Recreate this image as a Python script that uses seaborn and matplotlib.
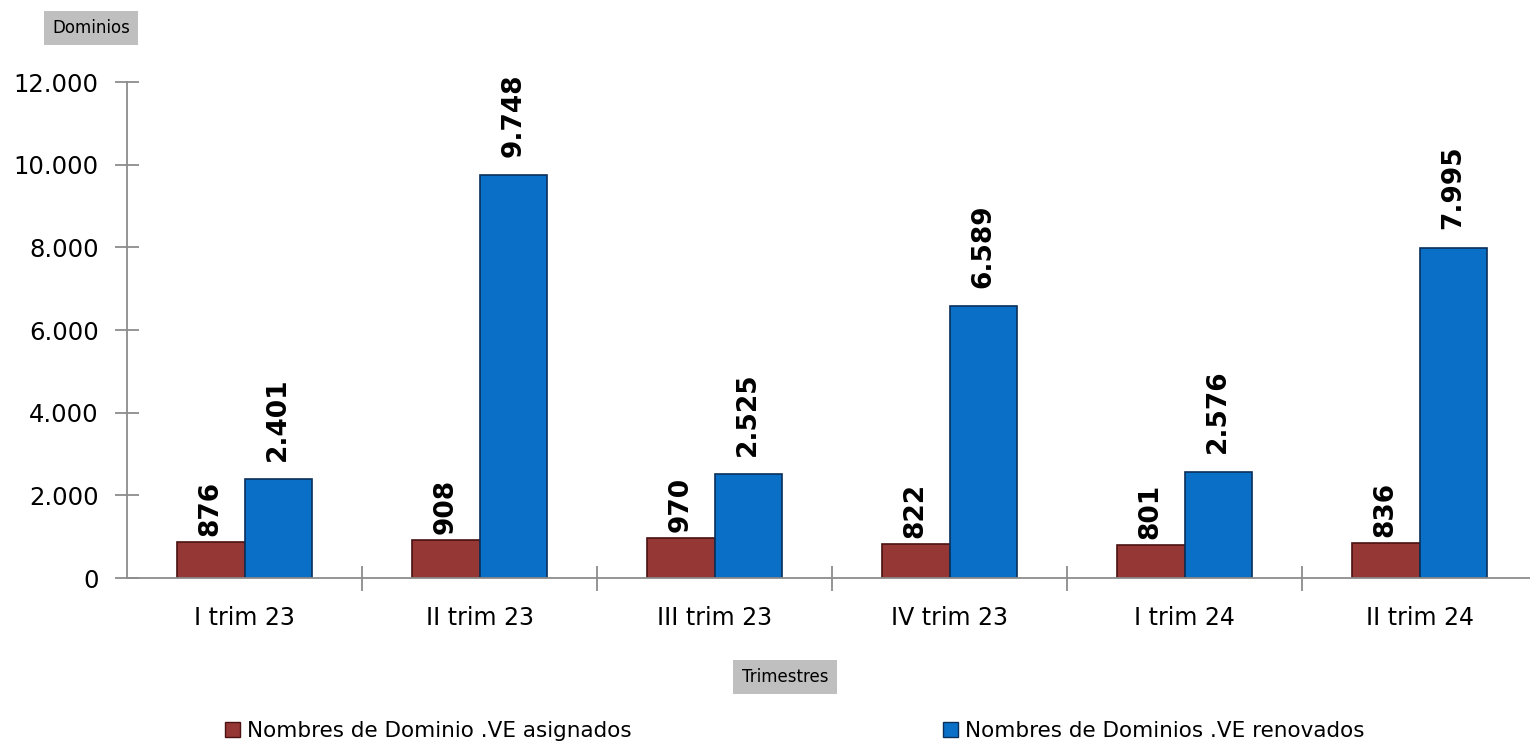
import pandas as pd
import seaborn as sns
import matplotlib.pyplot as plt
from matplotlib.patches import Patch
from matplotlib.ticker import FuncFormatter, FixedLocator

trimestres = ['I trim 23', 'II trim 23', 'III trim 23', 'IV trim 23', 'I trim 24', 'II trim 24']
asignados = [876, 908, 970, 822, 801, 836]
renovados = [2401, 9748, 2525, 6589, 2576, 7995]
series = ['Nombres de Dominio .VE asignados', 'Nombres de Dominios .VE renovados']
colores = ['#953735', '#0A6FC6']
bordes = ['#4a1212', '#0a2f5a']

df = pd.DataFrame({
    'Trimestre': trimestres * 2,
    'Dominios': asignados + renovados,
    'Serie': [series[0]] * 6 + [series[1]] * 6,
})


def miles(v, pos=None):
    return f"{int(v):,}".replace(",", ".")


sns.set_style('white')
plt.rcParams['font.family'] = ['DejaVu Sans']
plt.rcParams['text.color'] = 'black'
plt.rcParams['xtick.labelcolor'] = 'black'
plt.rcParams['ytick.labelcolor'] = 'black'

fig = plt.figure(figsize=(15.3, 7.44), dpi=100)
ax = fig.add_axes([127 / 1530, 166 / 744, (1530 - 127) / 1530, (578 - 82) / 744])

sns.barplot(data=df, x='Trimestre', y='Dominios', hue='Serie', palette=colores,
            width=0.575, gap=0, saturation=1, legend=False, ax=ax)

# etiquetas: las rojas van pegadas a la barra, las azules un poco mas arriba
for cont, borde, pad in zip(ax.containers, bordes, [4.5, 13]):
    for p in cont:
        p.set_edgecolor(borde)
        p.set_linewidth(1.2)
    ax.bar_label(cont, labels=[miles(b.get_height()) for b in cont], rotation=90,
                 padding=pad, fontsize=19, fontweight='bold', color='black')

ax.set_ylim(0, 12000)
ax.set_xlim(-0.5, 5.47)
ax.set_yticks(range(0, 12001, 2000))
ax.yaxis.set_major_formatter(FuncFormatter(miles))
ax.set_xlabel('')
ax.set_ylabel('')

for s in ['top', 'right']:
    ax.spines[s].set_visible(False)
for s in ['left', 'bottom']:
    ax.spines[s].set_color('#8c8c8c')
    ax.spines[s].set_linewidth(1.3)

ax.tick_params(axis='y', which='major', direction='inout', length=17, width=1.3,
               color='#8c8c8c', labelsize=17.5, pad=12, left=True)
ax.tick_params(axis='x', which='major', length=0, labelsize=17, pad=20)
ax.xaxis.set_minor_locator(FixedLocator([i + 0.5 for i in range(5)]))
ax.tick_params(axis='x', which='minor', direction='inout', length=18, width=1.3,
               color='#8c8c8c', bottom=True)

caja = dict(boxstyle='square,pad=0.5', facecolor='#bfbfbf', edgecolor='none')
fig.text(91 / 1530, 1 - 28 / 744, 'Dominios', fontsize=12, ha='center', va='center', bbox=caja)
fig.text(785 / 1530, 1 - 677 / 744, 'Trimestres', fontsize=12, ha='center', va='center', bbox=caja)

handles = [Patch(facecolor=c, edgecolor=b) for c, b in zip(colores, bordes)]
fig.legend(handles, series, loc='center left', bbox_to_anchor=(225 / 1530, 1 - 731 / 744),
           ncol=2, frameon=False, fontsize=15.5, handlelength=0.7, handleheight=0.7,
           handletextpad=0.3, columnspacing=14.5, borderaxespad=0, borderpad=0)

fig.savefig('out.png', dpi=100)
